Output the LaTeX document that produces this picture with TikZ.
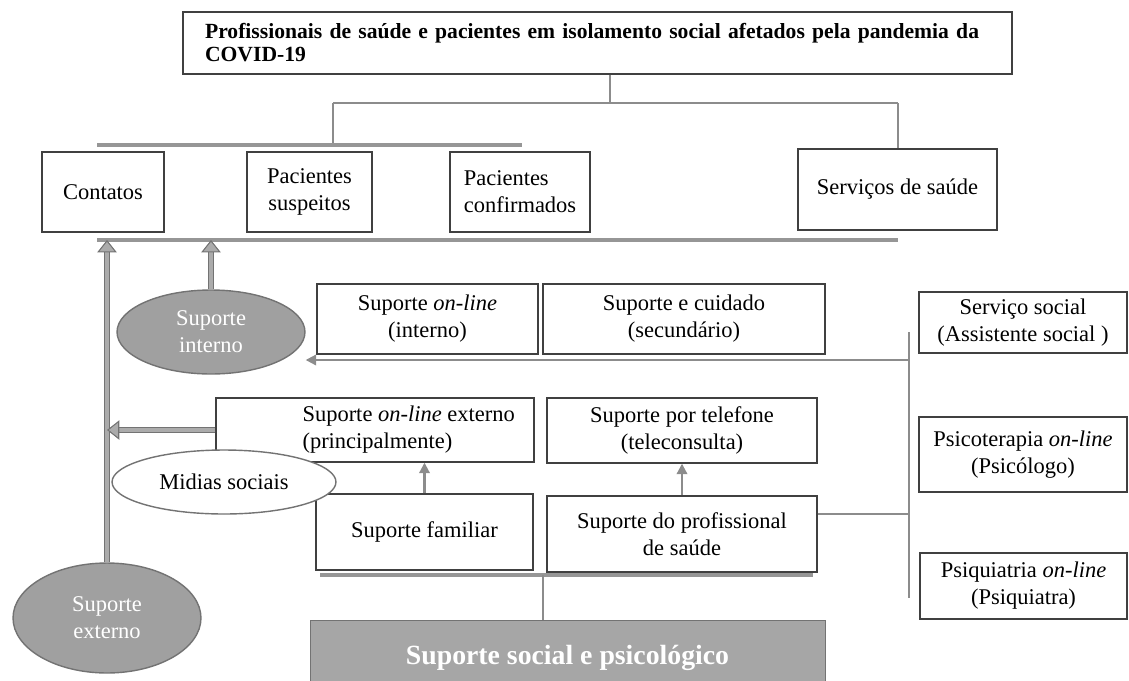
\documentclass[tikz,border=0pt]{standalone}
\usepackage{fontspec}
\setmainfont{Liberation Serif}
\usetikzlibrary{shapes.geometric,arrows.meta,positioning}
\usepackage{xcolor}
\definecolor{LineGray}{RGB}{140,140,140}
\definecolor{BarGray}{RGB}{150,150,150}
\definecolor{BoxGray}{RGB}{166,166,166}
\definecolor{EllGray}{RGB}{160,160,160}
\definecolor{EdgeGray}{RGB}{115,115,115}
\newcommand{\boxfont}{\fontsize{12.8}{15.4}\selectfont}
\newcommand{\headfont}{\fontsize{12.3}{13.1}\selectfont\bfseries}
\newcommand{\bigfont}{\fontsize{15.8}{17}\selectfont\bfseries}
\tikzset{
  sbox/.style={rectangle,draw=black!75,line width=0.8pt,fill=white,
               font=\boxfont,align=center,inner sep=2pt},
  sell/.style={ellipse,draw=EdgeGray,fill=EllGray,line width=0.8pt,
               text=white,font=\boxfont,align=center,inner sep=0pt},
  wellp/.style={sell,fill=white,text=black},
  sline/.style={LineGray,line width=1.2pt},
  sbar/.style={BarGray,line width=1.8pt},
  sarrow/.style={sline,-{Triangle[length=6pt,width=6pt]}},
  barrow/.style={draw=EdgeGray,line width=0.6pt,double=BarGray!80,double distance=2.4pt,
                 -{Triangle[length=7pt,width=11pt,fill=BarGray!80]}},
}

\begin{document}
\begin{tikzpicture}[x=0.02cm,y=-0.02cm]
  \useasboundingbox (0,0) rectangle (1129,680);

  % top of the tree
  \node[sbox,font=\headfont,align=left,text width=15.7cm,
        minimum width=16.58cm,minimum height=1.24cm] (top) at (597.5,43)
    {Profissionais de saúde e pacientes em isolamento social afetados pela pandemia da\\COVID-19};

  \node[sbox,minimum width=2.44cm,minimum height=1.6cm] (contatos) at (103,192) {Contatos};
  \node[sbox,minimum width=2.5cm,minimum height=1.6cm] (suspeitos) at (309.5,192) {Pacientes\\suspeitos};
  \node[sbox,align=left,minimum width=2.8cm,minimum height=1.6cm] (confirmados) at (520,192) {Pacientes\\confirmados};
  \node[sbox,minimum width=3.98cm,minimum height=1.62cm] (servicos) at (897.5,189.5) {Serviços de saúde};

  \coordinate (hub) at (610,103);
  \coordinate (hubL) at (333,103);
  \coordinate (hubR) at (898,103);
  \draw[sline] (top.south -| hub) -- (hub);
  \draw[sline] (hubL) -- (hubR);
  \draw[sline] (hubL) -- ++(0,42) coordinate (patbar);
  \draw[sline] (hubR) -- (servicos.north -| hubR);
  \draw[sbar] (97,145) -- (522,145);
  \coordinate (barL) at (97,240);
  \coordinate (barR) at (898,240);
  \draw[sbar] (barL) -- (barR);

  % supports
  \node[sbox,minimum width=4.42cm,minimum height=1.4cm] (onlineint) at (427.5,319) {Suporte \textit{on-line}\\(interno)};
  \node[sbox,minimum width=5.64cm,minimum height=1.4cm] (cuidado) at (684,319) {Suporte e cuidado\\(secundário)};
  \node[sbox,minimum width=6.36cm,minimum height=1.28cm,
        label={[xshift=1.62cm,anchor=west,align=left,font=\boxfont]west:Suporte \textit{on-line} externo\\(principalmente)}]
        (onlineext) at (375,430) {};
  \node[sbox,minimum width=5.4cm,minimum height=1.3cm] (telefone) at (682,430.5) {Suporte por telefone\\(teleconsulta)};
  \node[sbox,minimum width=4.34cm,minimum height=1.52cm] (familiar) at (424.5,532) {Suporte familiar};
  \node[sbox,minimum width=5.4cm,minimum height=1.52cm] (profissional) at (682,534) {Suporte do profissional\\de saúde};

  \node[sbox,minimum width=4.16cm,minimum height=1.22cm] (servsocial) at (1023,322.5) {Serviço social\\(Assistente social )};
  \node[sbox,minimum width=4.16cm,minimum height=1.5cm] (psicoterapia) at (1023,454.5) {Psicoterapia \textit{on-line}\\(Psicólogo)};
  \node[sbox,minimum width=4.14cm,minimum height=1.32cm] (psiquiatria) at (1023.5,586) {Psiquiatria \textit{on-line}\\(Psiquiatra)};

  \node[sell,minimum width=3.76cm,minimum height=1.68cm] (intsup) at (211,332) {Suporte\\interno};
  \node[sell,minimum width=3.76cm,minimum height=2.2cm] (extsup) at (107,618) {Suporte\\externo};
  \node[wellp,minimum width=4.48cm,minimum height=1.28cm] (midias) at (224,482) {Midias sociais};

  \node[rectangle,draw=EdgeGray,fill=BoxGray,text=white,font=\bigfont,
        minimum width=10.3cm,minimum height=1.5cm] (social) at (567.5,657.5) {Suporte social e psicológico};

  % connectors
  \coordinate (vtop) at (909,332);
  \coordinate (vbot) at (909,598);
  \coordinate (rowA) at (909,360);
  \coordinate (rowB) at (909,514);
  \coordinate (lowhub) at (543,575);
  \draw[sline] (vtop) -- (vbot);
  \draw[sarrow] (rowA) -- (intsup.east |- rowA);
  \draw[sline] (rowB -| profissional.east) -- (rowB);
  \draw[sarrow] (familiar.north) -- (familiar.north |- onlineext.south);
  \draw[sarrow] (profissional.north) -- (telefone.south);
  \draw[sbar] (320,575) -- (813,575);
  \draw[sline] (social.north -| lowhub) -- (lowhub);

  \draw[barrow] (extsup.north) -- (extsup.north |- barL);
  \draw[barrow] (intsup.north) -- (intsup.north |- barL);
  \draw[barrow] (onlineext.west) -- (onlineext.west -| extsup.north);
\end{tikzpicture}
\end{document}
